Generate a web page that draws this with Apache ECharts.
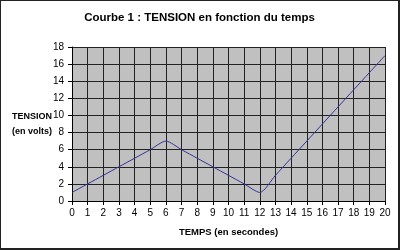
<!DOCTYPE html>
<html><head><meta charset="utf-8">
<script src="https://cdn.jsdelivr.net/npm/echarts@6/dist/echarts.min.js"></script>
<style>html,body{margin:0;padding:0;background:#fff}#c{width:400px;height:250px;box-sizing:border-box;border:1px solid #222;border-right-width:2px;border-bottom-width:2px}</style>
</head><body><div id="c"></div>
<script>
const titleText = "Courbe 1 : TENSION en fonction du temps";
const xName = "TEMPS (en secondes)";
const yName = "TENSION\n(en volts)";
const times = [0,1,2,3,4,5,6,7,8,9,10,11,12,13,14,15,16,17,18,19,20];
const tension = [1,2,3,4,5,6,7,6,5,4,3,2,1,3,5,7,9,11,13,15,17];

const chart = echarts.init(document.getElementById('c'), null, {renderer:'canvas'});
const font = 'Arial, "Liberation Sans", sans-serif';
chart.setOption({
  animation:false,
  title:{text:titleText,left:'center',top:6,textStyle:{fontFamily:font,fontSize:11.5,fontWeight:'bold',color:'#000'}},
  grid:{left:71,right:13,top:46,bottom:47,show:true,backgroundColor:'#c0c0c0',borderWidth:0},
  xAxis:{type:'value',min:0,max:20,interval:1,
    name:xName,nameLocation:'middle',nameGap:26,nameMoveOverlap:false,
    nameTextStyle:{fontFamily:font,fontSize:9.5,fontWeight:'bold',color:'#000'},
    axisLine:{onZero:false,lineStyle:{color:'#000',width:1}},
    axisTick:{show:true,length:4,lineStyle:{color:'#000'}},
    axisLabel:{fontFamily:font,fontSize:10,color:'#000',margin:7},
    splitLine:{show:true,lineStyle:{color:'#222',width:1}}},
  yAxis:{type:'value',min:0,max:18,interval:2,
    name:yName,nameLocation:'middle',nameGap:40,nameRotate:0,nameMoveOverlap:false,
    nameTextStyle:{fontFamily:font,fontSize:9,fontWeight:'bold',color:'#000',align:'center',lineHeight:15},
    axisLine:{show:true,lineStyle:{color:'#000',width:1}},
    axisTick:{show:true,length:4,lineStyle:{color:'#000'}},
    axisLabel:{fontFamily:font,fontSize:10,color:'#000',margin:8},
    splitLine:{show:true,lineStyle:{color:'#222',width:1}}},
  series:[{type:'line',data:times.map((t,i)=>[t,tension[i]]),smooth:0.25,symbol:'none',
    lineStyle:{color:'#333399',width:1}}]
});
</script></body></html>
